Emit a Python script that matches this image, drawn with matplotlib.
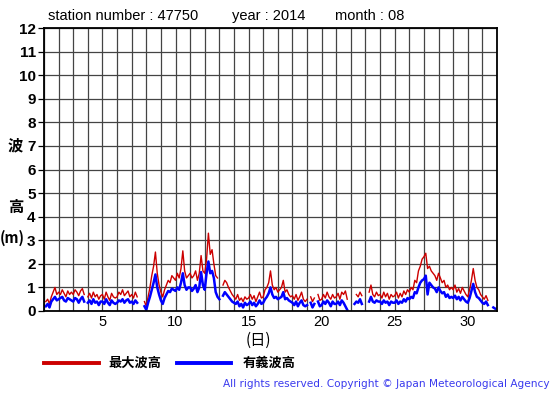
import numpy as np
import matplotlib.pyplot as plt

plt.rcParams['font.family'] = ['Liberation Sans', 'Noto Sans CJK JP', 'DejaVu Sans']

nan = np.nan
# 3-hourly values, one row per day (00h ... 21h)
max_wave = [
    nan, 0.4, 0.5, 0.3, 0.6, 0.8, 1.0, 0.7,      # 1
    0.8, 0.7, 0.9, 0.75, 0.6, 0.85, 0.7, 0.8,    # 2
    0.7, 0.9, 0.8, 0.65, 0.85, 0.95, 0.7, nan,   # 3
    0.6, 0.75, 0.55, 0.8, 0.6, 0.7, 0.5, 0.65,   # 4
    0.7, 0.5, 0.8, 0.6, 0.45, 0.75, 0.6, 0.55,   # 5
    0.6, 0.8, 0.7, 0.9, 0.65, 0.75, 0.85, 0.6,   # 6
    0.7, 0.55, 0.8, 0.6, nan, 0.5, nan, 0.4,     # 7
    0.2, 0.6, 1.0, 1.5, 1.9, 2.5, 1.6, 1.1,      # 8
    0.8, 0.6, 0.9, 1.1, 1.3, 1.2, 1.5, 1.4,      # 9
    1.3, 1.6, 1.4, 1.8, 2.55, 1.7, 1.4, 1.5,     # 10
    1.6, 1.4, 1.5, 1.7, 1.3, 1.6, 2.35, 1.7,     # 11
    1.6, 2.2, 3.3, 2.4, 2.6, 2.0, 1.5, 1.4,      # 12
    nan, nan, 1.1, 1.3, 1.2, 1.0, 0.85, 0.7,     # 13
    0.6, 0.5, 0.7, 0.45, 0.55, 0.4, 0.6, 0.5,    # 14
    0.55, 0.7, 0.5, 0.65, 0.4, 0.6, 0.8, 0.55,   # 15
    0.6, 0.9, 1.0, 1.2, 1.7, 1.1, 0.9, 1.0,      # 16
    0.8, 0.9, 1.0, 1.3, 0.8, 0.9, 0.7, 0.6,      # 17
    0.65, 0.5, 0.7, 0.45, 0.6, 0.8, 0.5, 0.4,    # 18
    0.5, nan, 0.6, 0.4, 0.55, nan, 0.7, 0.45,    # 19
    0.5, 0.7, 0.55, 0.8, 0.6, 0.5, 0.7, 0.55,    # 20
    0.6, 0.75, 0.5, 0.8, 0.7, 0.85, 0.5, nan,    # 21
    nan, nan, nan, 0.7, 0.6, 0.8, 0.65, nan,     # 22
    nan, nan, 0.8, 1.1, 0.7, 0.6, 0.8, 0.65,     # 23
    0.7, 0.55, 0.8, 0.6, 0.75, 0.5, 0.7, 0.6,    # 24
    0.65, 0.8, 0.55, 0.75, 0.6, 0.85, 0.7, 0.9,  # 25
    0.8, 1.0, 0.9, 1.3, 1.2, 1.7, 1.9, 2.2,      # 26
    2.3, 2.45, 1.8, 1.9, 1.7, 1.6, 1.5, 1.3,     # 27
    1.6, 1.4, 1.2, 1.3, 1.0, 1.1, 0.9, 1.0,      # 28
    0.9, 1.1, 0.8, 0.95, 0.75, 1.0, 0.85, 0.7,   # 29
    0.6, 0.9, 1.3, 1.8, 1.3, 1.0, 0.9, 0.7,      # 30
    0.6, 0.5, 0.65, 0.45, nan, nan, nan, nan,    # 31
]
sig_wave = [
    nan, 0.2, 0.3, 0.15, 0.4, 0.5, 0.6, 0.45,
    0.5, 0.55, 0.6, 0.45, 0.4, 0.55, 0.5, 0.45,
    0.4, 0.55, 0.5, 0.35, 0.5, 0.6, 0.4, nan,
    0.35, 0.45, 0.3, 0.5, 0.35, 0.4, 0.25, 0.4,
    0.4, 0.3, 0.5, 0.35, 0.25, 0.45, 0.35, 0.3,
    0.35, 0.45, 0.4, 0.5, 0.35, 0.45, 0.5, 0.35,
    0.4, 0.3, 0.45, 0.35, nan, 0.25, nan, 0.2,
    0.05, 0.35, 0.6, 0.9, 1.2, 1.55, 1.0, 0.7,
    0.45, 0.3, 0.55, 0.7, 0.85, 0.8, 0.95, 0.9,
    0.85, 1.0, 0.9, 1.2, 1.6, 1.1, 0.9, 1.0,
    1.0, 0.85, 0.95, 1.1, 0.8, 1.0, 1.65, 1.1,
    0.9, 1.6, 2.1, 1.6, 1.7, 1.4, 0.8, 0.6,
    0.5, nan, 0.65, 0.8, 0.7, 0.6, 0.5, 0.4,
    0.35, 0.3, 0.4, 0.2, 0.3, 0.15, 0.35, 0.25,
    0.3, 0.4, 0.25, 0.35, 0.2, 0.3, 0.45, 0.3,
    0.35, 0.5, 0.6, 0.75, 1.0, 0.7, 0.55, 0.6,
    0.5, 0.55, 0.6, 0.8, 0.5, 0.55, 0.45, 0.4,
    0.35, 0.25, 0.4, 0.2, 0.35, 0.45, 0.25, 0.2,
    0.25, nan, 0.35, 0.15, 0.3, nan, 0.4, 0.2,
    0.25, 0.4, 0.3, 0.45, 0.35, 0.2, 0.4, 0.3,
    0.3, 0.4, 0.25, 0.45, 0.35, 0.2, 0.05, nan,
    nan, nan, 0.3, 0.4, 0.35, 0.5, 0.3, nan,
    nan, nan, 0.4, 0.6, 0.4, 0.35, 0.45, 0.4,
    0.4, 0.3, 0.45, 0.35, 0.4, 0.25, 0.4, 0.35,
    0.35, 0.45, 0.3, 0.4, 0.35, 0.5, 0.4, 0.55,
    0.5, 0.6, 0.55, 0.8, 0.75, 1.0, 1.2, 1.3,
    1.35, 1.5, 0.7, 1.2, 1.1, 1.0, 0.95, 0.8,
    1.0, 0.85, 0.75, 0.8, 0.6, 0.7, 0.55, 0.6,
    0.55, 0.65, 0.5, 0.6, 0.45, 0.6, 0.5, 0.4,
    0.35, 0.55, 0.85, 1.15, 0.8, 0.6, 0.55, 0.45,
    0.35, 0.3, 0.4, 0.25, nan, nan, 0.15, 0.1,
]
day_ticks = [5, 10, 15, 20, 25, 30]
height_ticks = list(range(0, 13))

t = 1 + np.arange(len(max_wave)) / 8.0

W, H = 555, 395
fig = plt.figure(figsize=(W / 100, H / 100), dpi=100)
ax = fig.add_axes([44 / W, 1 - 311 / H, (497 - 44) / W, (311 - 28) / H])

ax.plot(t, max_wave, color='#cc0000', lw=1.0)
ax.plot(t, sig_wave, color='#0000ff', lw=1.8)

ax.set_xlim(1, 32)
ax.set_ylim(0, 12)
ax.set_xticks(range(1, 33), minor=True)
ax.set_xticks(day_ticks)
ax.set_yticks(height_ticks)
ax.grid(True, which='both', axis='x', color='#444444', lw=0.9)
ax.grid(True, which='major', axis='y', color='#444444', lw=0.9)
ax.tick_params(axis='x', which='both', length=0, labelsize=10.5, pad=3)
ax.tick_params(axis='y', length=4, width=0.9, labelsize=11, pad=2)
for lab in ax.get_yticklabels():
    lab.set_fontweight('bold')
for s in ax.spines.values():
    s.set_linewidth(1.3)

# title line
fig.text(48 / W, 1 - 16 / H, 'station number : 47750', fontsize=10.5, va='center')
fig.text(232 / W, 1 - 16 / H, 'year : 2014', fontsize=10.5, va='center')
fig.text(335 / W, 1 - 16 / H, 'month : 08', fontsize=10.5, va='center')

# y axis label
jp = ['Noto Sans CJK JP', 'DejaVu Sans']
fig.text(8 / W, 1 - 145 / H, '波', fontsize=11, fontweight='bold', family=jp, va='center')
fig.text(8 / W, 1 - 207 / H, '高', fontsize=11, fontweight='bold', family=jp, va='center')
fig.text(0 / W, 1 - 238 / H, '(m)', fontsize=10.5, fontweight='bold', family=jp, va='center')
fig.text(258 / W, 1 - 340 / H, '(日)', fontsize=11, family=jp, ha='center', va='center')

# legend
fig.lines.append(plt.Line2D([44 / W, 99 / W], [1 - 363 / H] * 2, color='#cc0000', lw=2.8,
                            transform=fig.transFigure))
fig.text(108 / W, 1 - 363 / H, '最大波高', fontsize=9.5, fontweight='bold', family=jp, va='center')
fig.lines.append(plt.Line2D([177 / W, 231 / W], [1 - 363 / H] * 2, color='#0000ff', lw=2.8,
                            transform=fig.transFigure))
fig.text(243 / W, 1 - 363 / H, '有義波高', fontsize=9.5, fontweight='bold', family=jp, va='center')

fig.text(550 / W, 1 - 384 / H, 'All rights reserved. Copyright \u00a9 Japan Meteorological Agency',
         fontsize=7.6, family='DejaVu Sans', color='#3a3aee', ha='right', va='center')

fig.savefig('out.png', dpi=100)
